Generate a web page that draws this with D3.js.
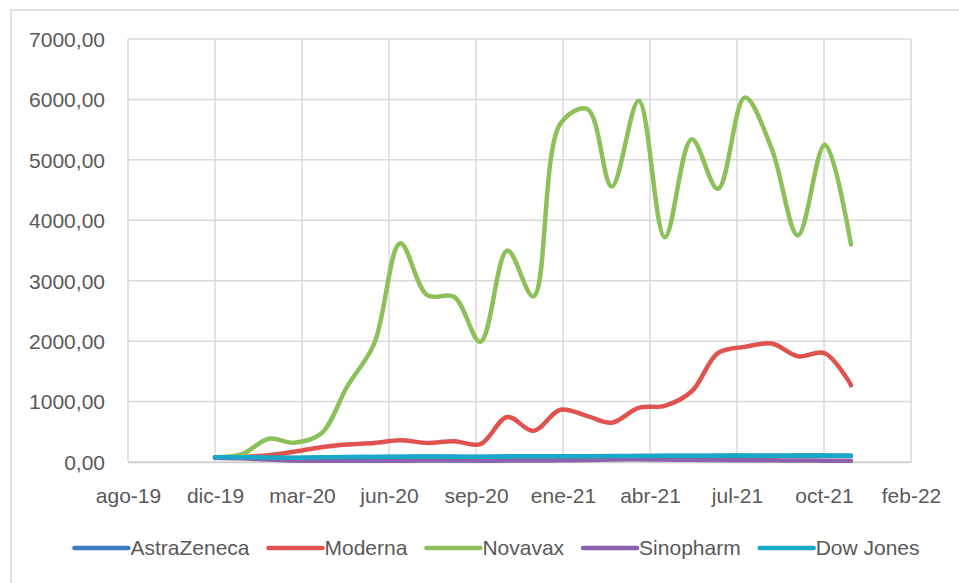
<!DOCTYPE html>
<html lang="es">
<head>
<meta charset="UTF-8">
<title>Vacunas vs Dow Jones</title>
<script src="https://d3js.org/d3.v7.min.js"></script>
<style>
    html, body {margin: 0; height: 100%; overflow: hidden; background: #fff}
    svg text {font-family: 'Liberation Sans', Arial, sans-serif; fill: #595959}
</style>
</head>
<body>
<svg id="chart" width="959" height="583"></svg>
<script>

// etiquetas del eje x (cada 100 dias)
let tickLabels = ["ago-19", "dic-19", "mar-20", "jun-20", "sep-20", "ene-21", "abr-21", "jul-21", "oct-21", "feb-22"];
let yTicks = [0, 1000, 2000, 3000, 4000, 5000, 6000, 7000];

// una observacion por mes, dic-2019 .. dic-2021
let fechas = d3.timeMonth.range(new Date(2019, 11, 1), new Date(2022, 0, 1));

let astrazeneca = [76, 78, 74, 68, 76, 80, 82, 84, 88, 86, 84, 90, 92, 92, 94, 96, 98, 100, 100, 102, 104, 102, 104, 104, 102];
let moderna = [75, 85, 110, 170, 245, 290, 315, 360, 315, 345, 295, 745, 515, 865, 760, 650, 895, 930, 1170, 1800, 1905, 1960, 1750, 1800, 1270];
let novavax = [75, 130, 385, 320, 470, 1250, 1960, 3620, 2760, 2730, 1990, 3500, 2740, 5600, 5840, 4560, 5980, 3720, 5340, 4520, 6030, 5180, 3750, 5250, 3600];
let sinopharm = [70, 60, 40, 25, 20, 20, 20, 22, 25, 25, 22, 24, 25, 28, 35, 42, 45, 40, 36, 32, 30, 28, 25, 22, 20];
let dowJones = [78, 80, 76, 70, 78, 82, 84, 86, 90, 88, 86, 92, 94, 94, 96, 98, 100, 102, 102, 104, 106, 104, 106, 106, 104];

let series = [
    {nombre: "AstraZeneca", color: "#3a7cc0", valores: astrazeneca},
    {nombre: "Moderna", color: "#e0524e", valores: moderna},
    {nombre: "Novavax", color: "#8cc15a", valores: novavax},
    {nombre: "Sinopharm", color: "#8b62ab", valores: sinopharm},
    {nombre: "Dow Jones", color: "#17a9c7", valores: dowJones}
];

let svg = d3.select("#chart");
let margin = {left: 128, right: 48, top: 39, bottom: 121};
let W = 959, H = 583;

// borde del area del grafico
svg.append("rect")
    .attr("x", 11).attr("y", 10)
    .attr("width", 980).attr("height", 600)
    .attr("fill", "none").attr("stroke", "#d9d9d9").attr("stroke-width", 1.5);

let tickDates = tickLabels.map((d, i) => d3.timeDay.offset(fechas[0], (i - 1) * 100));

let x = d3.scaleTime()
    .domain([tickDates[0], tickDates[tickDates.length - 1]])
    .range([margin.left, W - margin.right]);

let y = d3.scaleLinear()
    .domain([0, 7000])
    .range([H - margin.bottom, margin.top]);

let es = d3.formatLocale({decimal: ",", thousands: "", grouping: [3], currency: ["", " €"]});
let fmt = es.format(".2f");

// rejilla
svg.append("g")
    .selectAll("line")
    .data(yTicks)
    .join("line")
    .attr("x1", margin.left).attr("x2", W - margin.right)
    .attr("y1", d => y(d)).attr("y2", d => y(d))
    .attr("stroke", "#dadada").attr("stroke-width", 1.5);

svg.append("g")
    .selectAll("line")
    .data(tickDates)
    .join("line")
    .attr("x1", d => x(d)).attr("x2", d => x(d))
    .attr("y1", margin.top).attr("y2", H - margin.bottom)
    .attr("stroke", "#dadada").attr("stroke-width", 1.5);

// eje y
let yAxis = svg.append("g")
    .attr("transform", `translate(${margin.left - 23},0)`)
    .call(d3.axisLeft(y).tickValues(yTicks).tickFormat(fmt).tickSize(0).tickPadding(0));
yAxis.select(".domain").remove();
yAxis.selectAll("text").style("font-size", "21px").attr("dy", "0.35em");

// eje x
let xAxis = svg.append("g")
    .attr("transform", `translate(0,${H - margin.bottom})`)
    .call(d3.axisBottom(x).tickValues(tickDates).tickFormat((d, i) => tickLabels[i]).tickSize(0).tickPadding(39));
xAxis.select(".domain").attr("stroke", "#cfcfcf").attr("stroke-width", 1.5);
xAxis.selectAll("text").style("font-size", "21px").attr("dy", "0.1em");

// lineas suavizadas
let linea = d3.line()
    .x((d, i) => x(fechas[i]))
    .y(d => y(d))
    .curve(d3.curveCatmullRom.alpha(0.5));

svg.append("g")
    .selectAll("path")
    .data(series)
    .join("path")
    .attr("d", d => linea(d.valores))
    .attr("fill", "none")
    .attr("stroke", d => d.color)
    .attr("stroke-width", 4.5)
    .attr("stroke-linecap", "round")
    .attr("stroke-linejoin", "round");

// leyenda
let leyenda = svg.append("g");
let pos = 0;
series.forEach(s => {
    let item = leyenda.append("g").attr("transform", `translate(${pos},0)`);
    item.append("line")
        .attr("x1", 0).attr("x2", 54)
        .attr("stroke", s.color).attr("stroke-width", 4.5).attr("stroke-linecap", "round");
    let t = item.append("text")
        .attr("x", 56).attr("dy", "0.35em")
        .style("font-size", "21px")
        .text(s.nombre);
    pos += 56 + t.node().getComputedTextLength() + 19;
});
pos -= 19;
leyenda.attr("transform", `translate(${497 - pos / 2},548)`);

</script>
</body>
</html>
